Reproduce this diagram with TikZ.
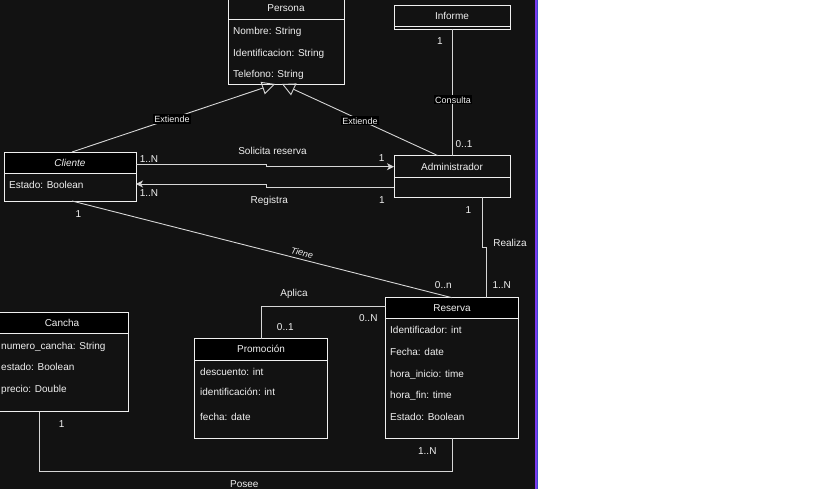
\documentclass[tikz,border=0pt]{standalone}
\usepackage{fontspec}
\setmainfont{Liberation Sans}
\usetikzlibrary{arrows.meta, positioning}

\definecolor{canvas}{HTML}{121212}
\definecolor{ink}{HTML}{F0F0F0}
\definecolor{edge}{HTML}{D6D6D6}
\definecolor{frame}{HTML}{7C3AED}
\definecolor{rail}{HTML}{3B4CCA}

\begin{document}
\begin{tikzpicture}[
    x=1pt, y=-1pt,
    node distance = 0pt,
    hdr/.style     = {rectangle, draw=ink, fill=canvas, text=ink, inner sep=0pt,
                      outer sep=0pt, line width=0.9pt, minimum height=22pt,
                      font=\fontsize{10}{12}\selectfont},
    hdrdark/.style = {hdr, fill=black},
    body/.style    = {rectangle, draw=ink, inner sep=0pt, outer sep=0pt,
                      line width=0.9pt},
    attr/.style    = {anchor=west, text=ink, inner sep=0pt, text height=8.5pt,
                      text depth=0pt, font=\fontsize{10}{12}\selectfont},
    lbl/.style     = {text=ink, inner sep=0pt, text height=8.5pt, text depth=0pt,
                      font=\fontsize{10}{12}\selectfont},
    tag/.style     = {lbl, fill=black, inner sep=1pt, text height=7.5pt,
                      font=\fontsize{9}{11}\selectfont},
    conn/.style    = {draw=edge, line width=0.9pt},
    gen/.style     = {conn, -{Triangle[open, length=13pt, width=13pt]}},
    nav/.style     = {conn, -{Stealth[length=7pt, width=7pt, inset=2pt]}}
]
\useasboundingbox (0,0) rectangle (819,489);

%% Canvas and side frame
\fill[white]  (0,0) rectangle (819,489);
\fill[canvas] (0,0) rectangle (534.7,489);
\fill[frame]  (534.7,0) rectangle (537,489);
\fill[rail]   (537,0) rectangle (538,489);

%% Persona
\node[hdr, minimum width=116pt] (persona) at (286,8) {Persona};
\node[body, minimum width=116pt, minimum height=65pt, below=of persona] (persona-b) {};
\node[attr] (per-nombre) at (233,30) {Nombre: String};
\node[attr] (per-ident)  at (233,52) {Identificacion: String};
\node[attr] (per-tel)    at (233,73) {Telefono: String};

%% Informe
\node[hdr, minimum width=116pt, minimum height=21pt] (informe) at (452,15.5) {Informe};
\node[body, minimum width=116pt, minimum height=3pt, below=of informe] (informe-b) {};

%% Cliente
\node[hdrdark, minimum width=132pt, minimum height=21pt,
      font=\fontsize{10}{12}\selectfont\itshape] (cliente) at (70,162.5) {Cliente};
\node[body, minimum width=132pt, minimum height=28pt, below=of cliente] (cliente-b) {};
\node[attr] (cli-estado) at (9,184) {Estado: Boolean};

%% Administrador
\node[hdr, minimum width=116pt] (admin) at (452,166.7) {Administrador};
\node[body, minimum width=116pt, minimum height=19.6pt, below=of admin] (admin-b) {};

%% Reserva
\node[hdrdark, minimum width=133pt, minimum height=20.6pt] (reserva) at (452,308) {Reserva};
\node[body, minimum width=133pt, minimum height=120pt, below=of reserva] (reserva-b) {};
\node[attr] (res-ident)  at (390,329.3) {Identificador: int};
\node[attr] (res-fecha)  at (390,351)   {Fecha: date};
\node[attr] (res-inicio) at (390,373)   {hora\_inicio: time};
\node[attr] (res-fin)    at (390,394.7) {hora\_fin: time};
\node[attr] (res-estado) at (390,416)   {Estado: Boolean};

%% Promocion
\node[hdrdark, minimum width=133pt, minimum height=21.3pt] (promo) at (261,349.3) {Promoción};
\node[body, minimum width=133pt, minimum height=78.3pt, below=of promo] (promo-b) {};
\node[attr] (pro-desc)  at (200,371.7) {descuento: int};
\node[attr] (pro-ident) at (200,391)   {identificación: int};
\node[attr] (pro-fecha) at (200,416.7) {fecha: date};

%% Cancha
\node[hdrdark, minimum width=132pt, minimum height=21.7pt] (cancha) at (62,323) {Cancha};
\node[body, minimum width=132pt, minimum height=77.7pt, below=of cancha] (cancha-b) {};
\node[attr] (can-num)    at (1,345)   {numero\_cancha: String};
\node[attr] (can-estado) at (1,366.7) {estado: Boolean};
\node[attr] (can-precio) at (1,388)   {precio: Double};

%% Generalisation
\draw[gen] ([xshift=2pt]cliente.north) -- ([xshift=-11pt]persona-b.south);
\draw[gen] ([xshift=-14pt]admin.north) -- ([xshift=-4pt]persona-b.south);

%% Associations
\draw[nav]  ([yshift=-2pt]cliente.east) -- ++(130,0) |- (admin.west);
\draw[nav]  (admin-b.west) -- ++(-128,0) |- ([yshift=3pt]cliente-b.east);
\draw[conn] (informe-b.south) -- (admin.north);
\draw[conn] ([xshift=30pt]admin-b.south) -- ++(0,50) -| ([xshift=34pt]reserva.north);
\draw[conn] ([xshift=2pt]cliente-b.south) -- (reserva.north);
\draw[conn] (promo.north) |- ([yshift=2pt]reserva.west);
\draw[conn] ([xshift=-23pt]cancha-b.south) -- ++(0,60) -| (reserva-b.south);

%% Labels
\node[tag] (ext-cli)   at (172,119)   {Extiende};
\node[tag] (ext-adm)   at (360,120.7) {Extiende};
\node[tag] (consulta)  at (453,99.7)  {Consulta};
\node[lbl] (m-inf)     at (440,40.7)  {1};
\node[lbl] (m-adm-inf) at (464,143.3) {0..1};
\node[lbl] (m-sol-cli) at (149,158)   {1..N};
\node[lbl] (solicita)  at (272.5,150.7) {Solicita reserva};
\node[lbl] (m-sol-adm) at (381.7,157.3) {1};
\node[lbl] (m-reg-cli) at (149,192.7) {1..N};
\node[lbl] (registra)  at (269.3,199.3) {Registra};
\node[lbl] (m-reg-adm) at (382,199.3) {1};
\node[lbl] (m-rea-adm) at (468.3,209.3) {1};
\node[lbl] (realiza)   at (510,242)   {Realiza};
\node[lbl] (m-rea-res) at (501.7,284) {1..N};
\node[lbl] (m-tie-res) at (443.3,284) {0..n};
\node[lbl, rotate=-14, font=\fontsize{9}{11}\selectfont\itshape] (tiene) at (302.3,251.7) {Tiene};
\node[lbl] (m-tie-cli) at (78.3,213.3) {1};
\node[lbl] (aplica)    at (294,292.3) {Aplica};
\node[lbl] (m-apl-pro) at (285.3,326) {0..1};
\node[lbl] (m-apl-res) at (368.3,317.3) {0..N};
\node[lbl] (posee)     at (244.3,483.3) {Posee};
\node[lbl] (m-pos-can) at (61.7,423.3) {1};
\node[lbl] (m-pos-res) at (427.3,450) {1..N};

\end{tikzpicture}
\end{document}
